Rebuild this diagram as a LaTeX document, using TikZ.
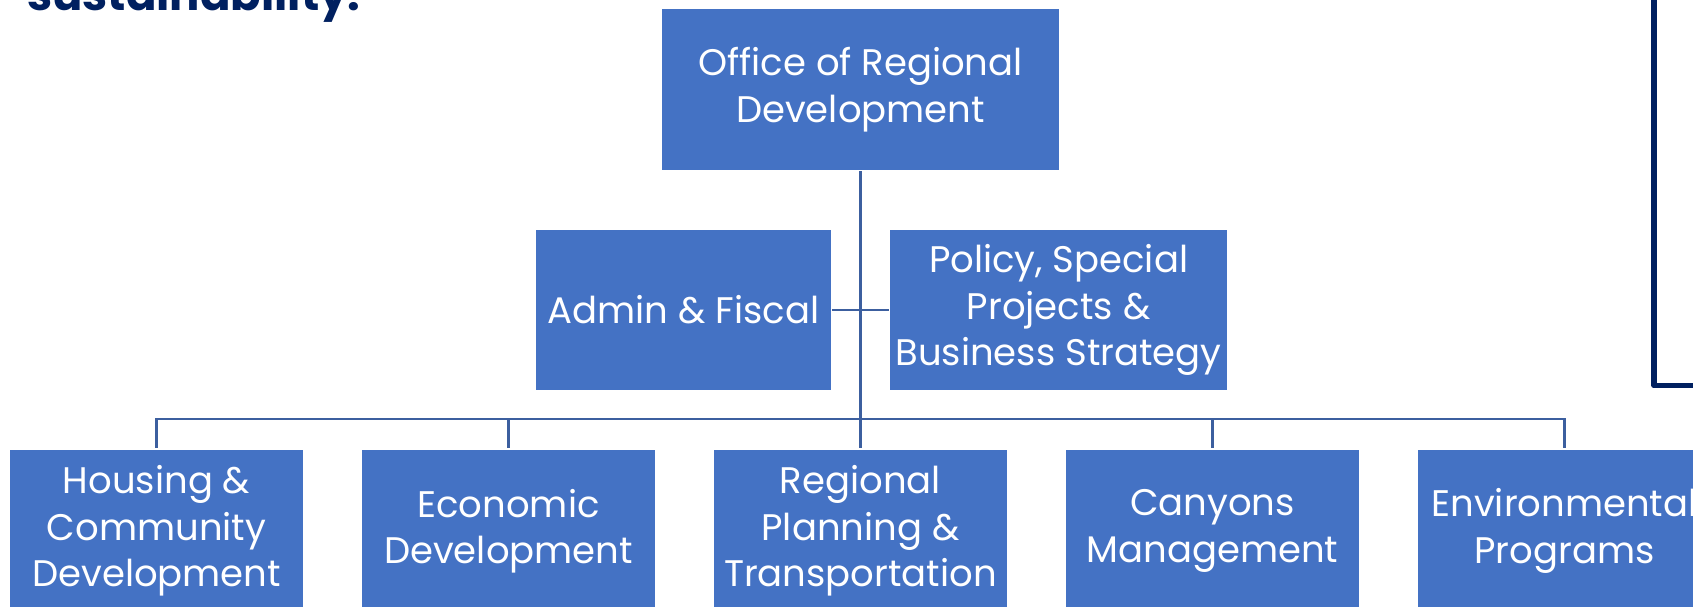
\documentclass[tikz,border=0pt]{standalone}
\usepackage{fontspec}
\setmainfont{Poppins}
\definecolor{boxblue}{HTML}{4472C4}
\definecolor{linkblue}{HTML}{3C5F9F}
\definecolor{navy}{HTML}{002060}
\tikzset{
  unit/.style={draw=white, line width=1.5pt, fill=boxblue, text=white, align=center,
    inner sep=0pt, font=\fontsize{37}{46.5}\selectfont},
  link/.style={draw=linkblue, line width=2.4pt}
}
\begin{document}
\begin{tikzpicture}[x=1pt,y=-1pt]
\useasboundingbox (0,0) rectangle (1693,607);
\clip (0,0) rectangle (1693,607);
\fill[white] (0,0) rectangle (1693,607);
% heading fragment
\node[anchor=base west, inner sep=0pt, text=navy, font=\fontsize{45}{54}\selectfont\bfseries] (head) at (27,11) {sustainability.};
% frame
\coordinate (ftop) at (1654,-10);
\coordinate (fcorner) at (1654,385.5);
\coordinate (fright) at (1710,385.5);
\draw[navy, line width=5.6pt, line join=round] (ftop) -- (fcorner) -- (fright);
% boxes
\node[unit, minimum width=398pt, minimum height=162pt] (ord) at (860.5,89.6) {Office of Regional\\Development};
\node[unit, minimum width=296pt, minimum height=162pt] (adm) at (683.5,310) {Admin \& Fiscal};
\node[unit, minimum width=338pt, minimum height=162pt] (pol) at (1058.6,310) {Policy, Special\\Projects \&\\Business Strategy};
\foreach \n/\x/\t in {hcd/156.6/{Housing \&\\Community\\Development},
                      eco/508.5/{Economic\\Development},
                      rpt/860.5/{Regional\\Planning \&\\Transportation},
                      can/1212.5/{Canyons\\Management},
                      env/1564.5/{Environmental\\Programs}}
  \node[unit, minimum width=294pt, minimum height=164pt] (\n) at (\x,531) {\t};
% connectors
\coordinate (bus) at (860.5,419);
\draw[link] (ord.south) -- (bus);
\draw[link] (adm.east) -- (pol.west);
\foreach \n in {hcd,eco,rpt,can,env}
  \draw[link] (bus) -| (\n.north);
\end{tikzpicture}
\end{document}
